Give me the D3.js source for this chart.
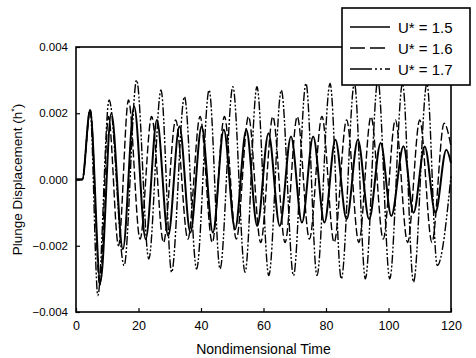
<!DOCTYPE html>
<html>
<head>
<meta charset="UTF-8" />
<title>Plunge Displacement</title>
<script src="https://cdn.jsdelivr.net/npm/d3@7"></script>
<style>
  body { margin: 0; background: #fff; }
  text { font-family: "Liberation Sans", Arial, sans-serif; fill: #000; }
</style>
</head>
<body>
<script>
// peaks and troughs: [time, h*]
var u15 = [[0,0],[2,0],[4.5,0.0021],[7.8,-0.0031],[11.3,0.0020],[15.0,-0.0021],[18.6,0.0022],[22.3,-0.0018],
  [25.9,0.0018],[29.5,-0.0017],[33.1,0.0016],[36.6,-0.0016],[40.2,0.0016],[43.8,-0.0016],[47.3,0.0015],
  [50.9,-0.0015],[54.5,0.0015],[58.0,-0.0014],[61.6,0.0014],[65.2,-0.0014],[68.8,0.0013],[72.3,-0.0013],
  [75.9,0.0013],[79.5,-0.0013],[83.0,0.0012],[86.6,-0.0012],[90.2,0.0012],[93.8,-0.0012],[97.5,0.0011],
  [100.9,-0.0011],[104.8,0.0010],[108.0,-0.0010],[111.6,0.0010],[115.0,-0.0010],[118.5,0.0009],[120,0.0005]];

var u16 = [[0,0],[2,0],[4.6,0.0021],[7.6,-0.0032],[10.4,0.0019],[13.6,-0.0020],[16.8,0.0024],[20.5,-0.0018],
  [24.2,0.0019],[28.0,-0.0019],[31.9,0.0018],[35.8,-0.0018],[39.7,0.0019],[43.6,-0.0019],[47.5,0.0019],
  [51.3,-0.0018],[55.2,0.0019],[59.1,-0.0019],[63.0,0.0019],[66.9,-0.0019],[70.8,0.0019],[74.7,-0.0018],
  [78.7,0.0019],[82.6,-0.0019],[86.6,0.0018],[90.5,-0.0019],[94.4,0.0019],[98.3,-0.0018],[102.2,0.0018],
  [106.1,-0.0019],[110.0,0.0018],[113.9,-0.0019],[117.8,0.0017],[120,0.0010]];

var u17 = [[0,0],[2,0],[4.5,0.0021],[7.0,-0.0035],[10.6,0.0024],[15.4,-0.0026],[19.4,0.0030],[23.3,-0.0024],
  [27.2,0.0027],[30.6,-0.0028],[34.7,0.0025],[38.6,-0.0027],[42.6,0.0027],[46.1,-0.0027],[50.2,0.0028],
  [54.1,-0.0028],[57.9,0.0028],[61.7,-0.0029],[65.7,0.0027],[69.6,-0.0029],[73.6,0.0029],[77.1,-0.0029],
  [81.3,0.0029],[84.9,-0.0030],[89.1,0.0029],[92.6,-0.0030],[96.6,0.0030],[100.4,-0.0030],[104.5,0.0029],
  [108.0,-0.0031],[112.3,0.0029],[115.6,-0.0026],[120,0.0001]];

var xTicks = [0, 20, 40, 60, 80, 100, 120];
var yTicks = [-0.004, -0.002, 0.000, 0.002, 0.004];
var labels = ["U* = 1.5", "U* = 1.6", "U* = 1.7"];

var W = 476, H = 358;
var mLeft = 76, mRight = 451, mTop = 47, mBottom = 312;

var svg = d3.select("body").append("svg").attr("width", W).attr("height", H);

var x = d3.scaleLinear().domain([0, 120]).range([mLeft, mRight]);
var y = d3.scaleLinear().domain([-0.004, 0.004]).range([mBottom, mTop]);

// tick marks (inside)
svg.append("g")
  .attr("transform", "translate(0," + mBottom + ")")
  .call(d3.axisBottom(x).tickValues(xTicks).tickSizeInner(-4).tickSizeOuter(0).tickPadding(9)
    .tickFormat(d3.format("d")))
  .call(function (g) { g.select(".domain").remove(); })
  .call(function (g) { g.selectAll("line").attr("stroke", "#000").attr("stroke-width", 1.2); })
  .call(function (g) { g.selectAll("text").attr("font-size", 12.5).attr("fill", "#000").attr("font-family", "Liberation Sans, Arial, sans-serif"); });

svg.append("g")
  .attr("transform", "translate(" + mLeft + ",0)")
  .call(d3.axisLeft(y).tickValues(yTicks).tickSizeInner(-4).tickSizeOuter(0).tickPadding(8)
    .tickFormat(d3.format(".3f")))
  .call(function (g) { g.select(".domain").remove(); })
  .call(function (g) { g.selectAll("line").attr("stroke", "#000").attr("stroke-width", 1.2); })
  .call(function (g) { g.selectAll("text").attr("font-size", 11.5).attr("fill", "#000").attr("font-family", "Liberation Sans, Arial, sans-serif"); });

var line = d3.line()
  .x(function (d) { return x(d[0]); })
  .y(function (d) { return y(d[1]); })
  .curve(d3.curveMonotoneX);

var series = [
  { data: u17, dash: "9,2,2,2,2,2", width: 1.4 },
  { data: u16, dash: "8,3", width: 1.4 },
  { data: u15, dash: null, width: 2 }
];

svg.selectAll("path.series").data(series).enter().append("path")
  .attr("class", "series")
  .attr("d", function (d) { return line(d.data); })
  .attr("fill", "none")
  .attr("stroke", "#000")
  .attr("stroke-width", function (d) { return d.width; })
  .attr("stroke-dasharray", function (d) { return d.dash; });

// frame
svg.append("rect")
  .attr("x", mLeft).attr("y", mTop)
  .attr("width", mRight - mLeft).attr("height", mBottom - mTop)
  .attr("fill", "none").attr("stroke", "#000").attr("stroke-width", 1.6);

// legend box over the corner
var lg = svg.append("g");
lg.append("rect")
  .attr("x", 342).attr("y", 8).attr("width", 128).attr("height", 77)
  .attr("fill", "#fff").attr("stroke", "#000").attr("stroke-width", 1.6);

var dashes = [null, "15,5", "22,3,2,3,2,3"];
labels.forEach(function (t, i) {
  var yy = 27 + i * 21;
  lg.append("line")
    .attr("x1", 350).attr("x2", 390).attr("y1", yy).attr("y2", yy)
    .attr("stroke", "#000").attr("stroke-width", i === 0 ? 1.7 : 1.4)
    .attr("stroke-dasharray", dashes[i]);
  lg.append("text")
    .attr("x", 398).attr("y", yy + 5.5)
    .attr("font-size", 15)
    .text(t);
});

// axis titles
svg.append("text")
  .attr("x", (mLeft + mRight) / 2).attr("y", 354)
  .attr("text-anchor", "middle").attr("font-size", 14)
  .text("Nondimensional Time");

var yt = svg.append("text")
  .attr("transform", "translate(22," + ((mTop + mBottom) / 2) + ") rotate(-90)")
  .attr("text-anchor", "middle").attr("font-size", 13.5);
yt.append("tspan").text("Plunge Displacement (h");
yt.append("tspan").attr("dy", -5).attr("font-size", 9).text("*");
yt.append("tspan").attr("dy", 5).text(")");
</script>
</body>
</html>
